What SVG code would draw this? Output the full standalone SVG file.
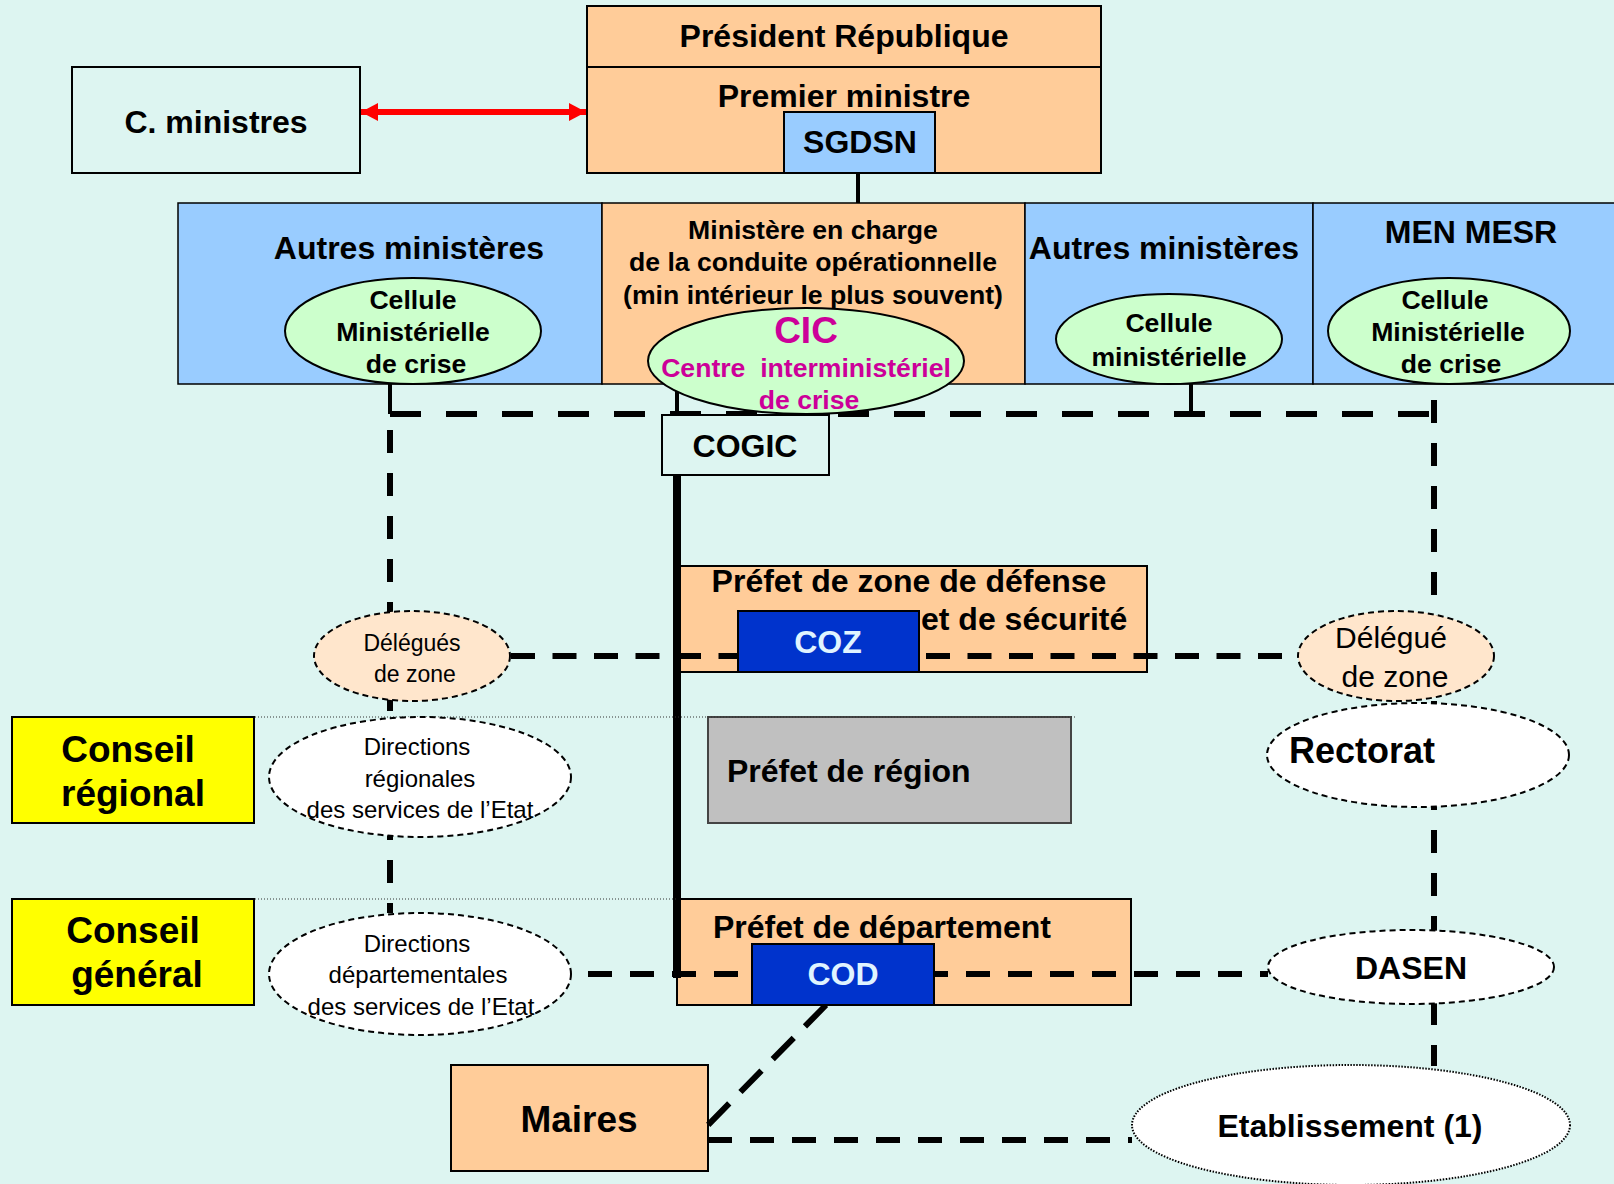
<svg xmlns="http://www.w3.org/2000/svg" width="1614" height="1184" viewBox="0 0 1614 1184">
<style>
.b{font-family:"Liberation Sans",Arial,sans-serif;font-weight:bold;fill:#000;text-anchor:middle}
.n{font-family:"Liberation Sans",Arial,sans-serif;fill:#000;text-anchor:middle;font-size:24px}
.r{font-family:"Liberation Sans",Arial,sans-serif;fill:#000;text-anchor:middle}
.s31{font-size:32px}.s26{font-size:26.6px}.s37{font-size:37px}
.box{stroke:#000;stroke-width:2}
.org{fill:#FFCC99}.blu{fill:#99CCFF}.grn{fill:#CCFFCC;stroke:#000;stroke-width:2}
.dk{fill:#0033CC;stroke:#000;stroke-width:2}
.del{fill:#FFE6CC;stroke:#000;stroke-width:2;stroke-dasharray:6 4}
.wht{fill:#FFFFFF;stroke:#000;stroke-width:2;stroke-dasharray:6 4}
.dash{fill:none;stroke:#000;stroke-width:6}
.dot{fill:none;stroke:#333;stroke-width:1;stroke-dasharray:1 2}
.solid{fill:none;stroke:#000;stroke-width:4}
.mag{fill:#CC0099}
.lt{fill:#E0F4FF}
</style>
<defs>
<marker id="ra" viewBox="0 0 17 18" refX="17" refY="9" markerWidth="17" markerHeight="18" markerUnits="userSpaceOnUse" orient="auto-start-reverse"><path d="M0,0 L17,9 L0,18 z" fill="#FF0000"/></marker>
</defs>
<rect x="0" y="0" width="1614" height="1184" fill="#DDF5F1"/>

<g id="president">
<rect x="587" y="6" width="514" height="61" class="box org"/>
<text x="844" y="47" class="b s31">Président République</text>
</g>
<g id="premier-ministre">
<rect x="587" y="67" width="514" height="106" class="box org"/>
<text x="844" y="107" class="b s31">Premier ministre</text>
</g>
<g id="sgdsn">
<rect x="784" y="112" width="151" height="61" class="box blu"/>
<text x="860" y="153" class="b s31">SGDSN</text>
</g>
<g id="c-ministres">
<rect x="72" y="67" width="288" height="106" fill="#DDF5F1" class="box"/>
<text x="216" y="133" class="b s31">C. ministres</text>
</g>

<g id="autres-ministeres-1">
<rect x="178" y="203" width="424" height="181" class="blu" stroke="#000" stroke-width="1.5"/>
<text x="409" y="259" class="b s31">Autres ministères</text>
</g>
<g id="ministere-conduite">
<rect x="602" y="203" width="423" height="181" class="org" stroke="#000" stroke-width="1.5"/>
<text x="813" y="239" class="b s26">Ministère en charge</text>
<text x="813" y="271" class="b s26">de la conduite opérationnelle</text>
<text x="813" y="304" class="b s26">(min intérieur le plus souvent)</text>
</g>
<g id="autres-ministeres-2">
<rect x="1025" y="203" width="288" height="181" class="blu" stroke="#000" stroke-width="1.5"/>
<text x="1164" y="259" class="b s31">Autres ministères</text>
</g>
<g id="men-mesr">
<rect x="1313" y="203" width="310" height="181" class="blu" stroke="#000" stroke-width="1.5"/>
<text x="1471" y="243" class="b s31">MEN MESR</text>
</g>

<g id="prefet-zone">
<rect x="680" y="566" width="467" height="106" class="box org"/>
<text x="909" y="592" class="b s31">Préfet de zone de défense</text>
<text x="921" y="630" class="b s31" style="text-anchor:start">et de sécurité</text>
</g>
<g id="prefet-region">
<rect x="708" y="717" width="363" height="106" fill="#C0C0C0" stroke="#444" stroke-width="2"/>
<text x="727" y="782" class="b s31" style="text-anchor:start">Préfet de région</text>
</g>
<g id="prefet-departement">
<rect x="677" y="899" width="454" height="106" class="box org"/>
<text x="713" y="938" class="b s31" style="text-anchor:start">Préfet de département</text>
</g>
<g id="conseil-regional">
<rect x="12" y="717" width="242" height="106" fill="#FFFF00" class="box"/>
<text x="128" y="762" class="b s37">Conseil</text>
<text x="133" y="806" class="b s37">régional</text>
</g>
<g id="conseil-general">
<rect x="12" y="899" width="242" height="106" fill="#FFFF00" class="box"/>
<text x="133" y="943" class="b s37">Conseil</text>
<text x="137" y="987" class="b s37">général</text>
</g>
<g id="maires">
<rect x="451" y="1065" width="257" height="106" class="box org"/>
<text x="579" y="1132" class="b s37">Maires</text>
</g>

<g id="connectors">
<line x1="361" y1="112" x2="586" y2="112" stroke="#FF0000" stroke-width="6" marker-start="url(#ra)" marker-end="url(#ra)"/>
<line x1="858" y1="173" x2="858" y2="203" class="solid"/>
<line x1="390" y1="384" x2="390" y2="414" class="solid"/>
<line x1="677" y1="384" x2="677" y2="414" class="solid" stroke-width="5"/>
<line x1="1191" y1="384" x2="1191" y2="414" class="solid"/>
<line x1="390" y1="414" x2="1434" y2="414" class="dash" stroke-width="7" stroke-dasharray="31 25"/>
<line x1="390" y1="414" x2="390" y2="913" class="dash" stroke-dasharray="23 20" stroke-dashoffset="27"/>
<line x1="1434" y1="400" x2="1434" y2="1066" class="dash" stroke-dasharray="23 20"/>
<line x1="677" y1="475" x2="677" y2="978" fill="none" stroke="#000" stroke-width="8"/>
<line x1="511" y1="656" x2="1298" y2="656" class="dash" stroke-dasharray="24 17.5"/>
<line x1="588" y1="974" x2="1268" y2="974" class="dash" stroke-dasharray="24 18"/>
<line x1="826" y1="1005" x2="708" y2="1125" class="dash" stroke-dasharray="30 16"/>
<line x1="708" y1="1140" x2="1132" y2="1140" class="dash" stroke-dasharray="24 18"/>
<line x1="255" y1="717" x2="1076" y2="717" class="dot"/>
<line x1="255" y1="899" x2="677" y2="899" class="dot"/>
</g>

<g id="cellule-1">
<ellipse cx="413" cy="331" rx="128" ry="53" class="grn"/>
<text x="413" y="309" class="b s26">Cellule</text>
<text x="413" y="341" class="b s26">Ministérielle</text>
<text x="416" y="373" class="b s26">de crise</text>
</g>
<g id="cic">
<ellipse cx="806" cy="361" rx="158" ry="53" class="grn"/>
<text x="806" y="343" class="b mag" font-size="37">CIC</text>
<text x="806" y="377" class="b s26 mag" xml:space="preserve">Centre  interministériel</text>
<text x="809" y="409" class="b s26 mag">de crise</text>
</g>
<g id="cellule-2">
<ellipse cx="1169" cy="339" rx="113" ry="45" class="grn"/>
<text x="1169" y="332" class="b s26">Cellule</text>
<text x="1169" y="366" class="b s26">ministérielle</text>
</g>
<g id="cellule-men">
<ellipse cx="1449" cy="331" rx="121" ry="53" class="grn"/>
<text x="1445" y="309" class="b s26">Cellule</text>
<text x="1448" y="341" class="b s26">Ministérielle</text>
<text x="1451" y="373" class="b s26">de crise</text>
</g>
<g id="cogic">
<rect x="662" y="415" width="167" height="60" fill="#DDF5F1" class="box"/>
<text x="745" y="457" class="b s31">COGIC</text>
</g>
<g id="coz">
<rect x="738" y="611" width="181" height="61" class="dk"/>
<text x="828" y="653" class="b s31 lt">COZ</text>
</g>
<g id="cod">
<rect x="752" y="944" width="182" height="61" class="dk"/>
<text x="843" y="985" class="b s31 lt">COD</text>
</g>
<g id="delegues-zone">
<ellipse cx="412" cy="656" rx="98" ry="45" class="del"/>
<text x="412" y="651" class="n" style="font-size:23px">Délégués</text>
<text x="415" y="682" class="n" style="font-size:23px">de zone</text>
</g>
<g id="delegue-zone">
<ellipse cx="1396" cy="656" rx="98" ry="45" class="del"/>
<text x="1391" y="648" class="r" font-size="30">Délégué</text>
<text x="1395" y="687" class="r" font-size="30">de zone</text>
</g>
<g id="directions-regionales">
<ellipse cx="420" cy="777" rx="151" ry="60" class="wht"/>
<text x="417" y="755" class="n">Directions</text>
<text x="420" y="787" class="n">régionales</text>
<text x="420" y="818" class="n">des services de l’Etat</text>
</g>
<g id="directions-departementales">
<ellipse cx="420" cy="974" rx="151" ry="61" class="wht"/>
<text x="417" y="952" class="n">Directions</text>
<text x="418" y="983" class="n">départementales</text>
<text x="421" y="1015" class="n">des services de l’Etat</text>
</g>
<g id="rectorat">
<ellipse cx="1418" cy="755" rx="151" ry="52" class="wht"/>
<text x="1362" y="763" class="b" font-size="36">Rectorat</text>
</g>
<g id="dasen">
<ellipse cx="1411" cy="967" rx="143" ry="37" class="wht"/>
<text x="1411" y="979" class="b s31">DASEN</text>
</g>
<g id="etablissement">
<ellipse cx="1351" cy="1125" rx="219" ry="60" fill="#FFFFFF" stroke="#000" stroke-width="2" stroke-dasharray="1.5 1.5"/>
<text x="1350" y="1137" class="b s31">Etablissement (1)</text>
</g>
</svg>
